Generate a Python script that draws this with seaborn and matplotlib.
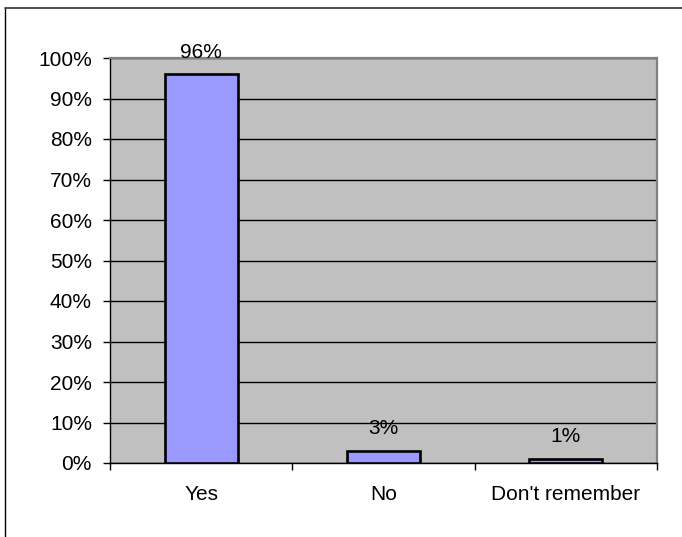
import matplotlib
matplotlib.use("Agg")
import matplotlib.pyplot as plt
import seaborn as sns
import pandas as pd
from matplotlib.lines import Line2D
from matplotlib.ticker import FixedLocator, FuncFormatter

categories = ["Yes", "No", "Don't remember"]
values = [96, 3, 1]
value_labels = ["96%", "3%", "1%"]
y_ticks = [0, 10, 20, 30, 40, 50, 60, 70, 80, 90, 100]

sns.set_style("white")
plt.rcParams['font.family'] = ['Liberation Sans', 'DejaVu Sans']
plt.rcParams['font.size'] = 15
plt.rcParams['text.color'] = 'black'
plt.rcParams['xtick.color'] = 'black'
plt.rcParams['ytick.color'] = 'black'
plt.rcParams['xtick.labelcolor'] = 'black'
plt.rcParams['ytick.labelcolor'] = 'black'

df = pd.DataFrame({"cat": categories, "val": values})

fig = plt.figure(figsize=(6.82, 5.37), dpi=100)
ax = fig.add_axes([110/682, 74/537, 547/682, 405/537])
ax.set_facecolor("#C0C0C0")

sns.barplot(data=df, x="cat", y="val", color="#9999FF", width=0.4,
            edgecolor="black", linewidth=1.9, saturation=1, ax=ax, zorder=3)

ax.set_xlim(-0.5, len(categories) - 0.5)
ax.set_ylim(0, 100)
ax.set_yticks(y_ticks)
ax.yaxis.set_major_formatter(FuncFormatter(lambda v, p: f"{int(v)}%"))
ax.set_xlabel("")
ax.set_ylabel("")

ax.grid(axis="y", color="black", linewidth=1.0, zorder=1)
ax.set_axisbelow(True)

# ticks
ax.tick_params(axis="y", direction="out", length=5, width=1, color="black",
               pad=8, labelsize=15, left=True, labelcolor="black")
ax.tick_params(axis="x", which="major", length=0, pad=16, labelsize=15,
               labelcolor="black")
ax.xaxis.set_minor_locator(FixedLocator([-0.5, 0.5, 1.5, 2.5]))
ax.tick_params(axis="x", which="minor", direction="out", length=5, width=1,
               color="black", bottom=True)

for s in ["left", "bottom"]:
    ax.spines[s].set_color("black")
    ax.spines[s].set_linewidth(1.0)
for s in ["top", "right"]:
    ax.spines[s].set_color("#808080")
    ax.spines[s].set_linewidth(1.6)

for i, (v, lab) in enumerate(zip(values, value_labels)):
    ax.annotate(lab, xy=(i, v), xytext=(0, 12), textcoords="offset points",
                ha="center", va="baseline", fontsize=15, color="black")

# outer chart border (left and top only visible)
fig.add_artist(Line2D([4.5/682, 4.5/682], [0, 1 - 7.5/537], color="black",
                      linewidth=1.0, transform=fig.transFigure))
fig.add_artist(Line2D([4.5/682, 1], [1 - 7.5/537, 1 - 7.5/537], color="#303030",
                      linewidth=1.2, transform=fig.transFigure))

fig.savefig("out.png", dpi=100, facecolor="white")
